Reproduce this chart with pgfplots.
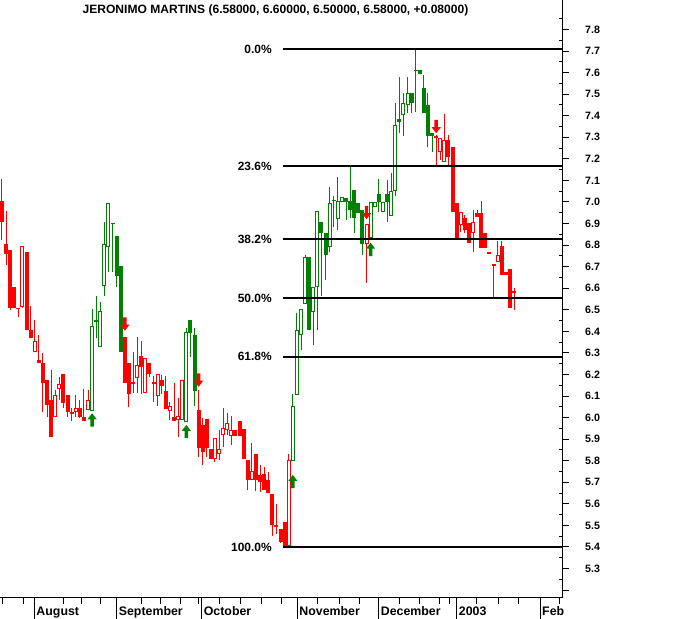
\documentclass[border=0pt]{standalone}
\usepackage{pgfplots}
\pgfplotsset{compat=1.18}
\usepackage{pgfplotstable}
\usepackage{fontspec}
\setmainfont{Liberation Sans}
\definecolor{cred}{RGB}{255,0,0}
\definecolor{cgreen}{RGB}{0,128,0}
\pgfdeclareplotmark{uparr}{%
 \pgfpathmoveto{\pgfqpoint{0bp}{0bp}}%
 \pgfpathlineto{\pgfqpoint{4.6bp}{-6bp}}%
 \pgfpathlineto{\pgfqpoint{1.7bp}{-6bp}}%
 \pgfpathlineto{\pgfqpoint{1.7bp}{-13.3bp}}%
 \pgfpathlineto{\pgfqpoint{-1.7bp}{-13.3bp}}%
 \pgfpathlineto{\pgfqpoint{-1.7bp}{-6bp}}%
 \pgfpathlineto{\pgfqpoint{-4.6bp}{-6bp}}%
 \pgfpathclose\pgfusepathqfill}
\pgfdeclareplotmark{downarr}{%
 \pgfpathmoveto{\pgfqpoint{0bp}{0bp}}%
 \pgfpathlineto{\pgfqpoint{4.6bp}{6bp}}%
 \pgfpathlineto{\pgfqpoint{1.7bp}{6bp}}%
 \pgfpathlineto{\pgfqpoint{1.7bp}{13.3bp}}%
 \pgfpathlineto{\pgfqpoint{-1.7bp}{13.3bp}}%
 \pgfpathlineto{\pgfqpoint{-1.7bp}{6bp}}%
 \pgfpathlineto{\pgfqpoint{-4.6bp}{6bp}}%
 \pgfpathclose\pgfusepathqfill}

% red, close below open (filled)
\pgfplotstableread{
k o h l c
1 7.005 7.107 6.824 6.909
2 6.805 6.960 6.708 6.757
3 6.777 6.777 6.499 6.507
4 6.607 6.607 6.507 6.507
5 6.510 6.510 6.468 6.504
7 6.768 6.768 6.406 6.406
8 6.406 6.518 6.368 6.368
10 6.267 6.383 6.255 6.255
11 6.255 6.298 6.027 6.159
12 6.174 6.174 6.004 6.057
13 6.082 6.221 5.911 5.911
16 6.202 6.202 6.043 6.066
17 6.105 6.105 6.004 6.027
18 6.025 6.043 5.986 6.015
20 6.046 6.082 5.998 6.004
21 6.004 6.131 5.986 5.986
31 6.375 6.375 6.159 6.159
32 6.253 6.253 6.049 6.109
33 6.166 6.303 6.113 6.154
35 6.286 6.355 6.109 6.236
37 6.255 6.255 6.188 6.204
38 6.165 6.193 6.074 6.156
40 6.174 6.198 6.109 6.148
41 6.123 6.193 6.038 6.038
43 6.003 6.159 5.986 5.986
49 6.035 6.128 5.819 5.858
50 5.966 5.997 5.780 5.842
51 5.992 5.992 5.819 5.858
52 5.853 5.853 5.807 5.807
58 5.942 5.942 5.915 5.915
59 5.984 5.984 5.915 5.915
60 5.946 5.946 5.807 5.807
61 5.803 5.803 5.664 5.711
63 5.831 5.831 5.659 5.711
64 5.734 5.780 5.656 5.703
65 5.738 5.772 5.664 5.664
66 5.711 5.749 5.649 5.649
67 5.646 5.646 5.452 5.502
68 5.502 5.599 5.460 5.491
69 5.482 5.482 5.417 5.424
70 5.514 5.514 5.400 5.406
107 7.308 7.310 7.172 7.299
110 7.287 7.311 7.164 7.210
111 7.256 7.256 6.955 6.955
112 6.994 6.994 6.832 6.832
114 6.924 6.940 6.856 6.870
115 6.901 6.901 6.808 6.808
117 6.950 6.963 6.929 6.929
118 6.950 7.005 6.788 6.788
119 6.855 6.855 6.788 6.788
120 6.769 6.769 6.759 6.759
121 6.710 6.710 6.549 6.703
123 6.796 6.819 6.661 6.661
124 6.677 6.677 6.661 6.661
125 6.688 6.688 6.507 6.507
126 6.585 6.600 6.500 6.580
}\redfilled
% red, close above open (hollow)
\pgfplotstableread{
k o h l c
6 6.512 6.796 6.508 6.796
9 6.303 6.453 6.303 6.355
14 6.001 6.128 6.001 6.105
15 6.131 6.190 6.082 6.154
19 6.025 6.105 6.004 6.043
22 6.035 6.128 6.035 6.082
34 6.182 6.375 6.113 6.244
36 6.113 6.275 6.113 6.275
39 6.102 6.202 6.055 6.202
42 6.032 6.072 5.989 6.054
44 5.989 6.091 5.911 6.007
45 5.989 6.174 5.989 6.174
53 5.807 5.905 5.795 5.905
54 5.831 5.942 5.803 5.853
55 5.919 6.043 5.865 5.950
56 5.942 6.020 5.919 5.973
57 5.915 6.007 5.873 5.942
62 5.711 5.881 5.711 5.754
71 5.406 5.831 5.406 5.803
90 6.805 6.898 6.626 6.898
108 7.233 7.298 7.195 7.298
109 7.187 7.408 7.187 7.287
113 6.893 6.955 6.862 6.955
116 6.855 6.963 6.769 6.906
122 6.723 6.819 6.723 6.754
}\redhollow
% green, close below open (filled)
\pgfplotstableread{
k o h l c
24 6.453 6.564 6.369 6.443
28 6.903 6.903 6.677 6.897
29 6.842 6.842 6.607 6.658
30 6.703 6.703 6.306 6.306
47 6.453 6.453 6.282 6.391
48 6.383 6.414 6.054 6.125
76 6.743 6.743 6.406 6.406
79 6.909 6.909 6.564 6.855
80 6.855 6.855 6.638 6.754
82 7.009 7.028 6.885 7.004
85 7.017 7.017 6.916 6.999
86 7.005 7.161 6.924 6.963
87 7.056 7.056 6.858 6.927
88 6.994 6.994 6.950 6.950
89 6.963 6.963 6.754 6.805
93 7.036 7.105 6.952 6.999
95 7.036 7.102 6.909 7.001
98 7.384 7.578 7.319 7.372
101 7.507 7.507 7.413 7.461
102 7.612 7.710 7.419 7.607
103 7.612 7.612 7.592 7.592
104 7.527 7.589 7.411 7.411
105 7.450 7.504 7.256 7.307
106 7.319 7.319 7.233 7.307
}\greenfilled
% green, close above open (hollow)
\pgfplotstableread{
k o h l c
23 6.032 6.502 6.032 6.425
25 6.327 6.538 6.327 6.494
26 6.612 6.909 6.564 6.804
27 6.793 6.994 6.677 6.994
46 5.981 6.416 5.981 6.396
72 5.800 6.108 5.800 6.054
73 6.105 6.484 6.105 6.406
74 6.383 6.502 6.313 6.502
75 6.527 6.754 6.527 6.743
77 6.491 6.604 6.337 6.604
78 6.604 6.958 6.406 6.958
81 6.793 7.071 6.769 6.994
83 6.921 7.117 6.870 7.005
84 7.001 7.025 7.001 7.025
91 6.832 7.001 6.832 7.001
92 6.975 7.001 6.975 7.001
94 6.955 7.001 6.955 7.001
96 6.936 7.134 6.936 7.052
97 7.052 7.458 7.028 7.357
99 7.403 7.504 7.306 7.458
100 7.450 7.578 7.411 7.507
}\greenhollow

\pgfplotsset{
 nomark/.style={only marks, mark=*, mark size=0pt,
   mark options={draw=none, fill=none}, forget plot},
 wick/.style={nomark,
   error bars/.cd, y dir=plus, y explicit, error mark=none,
   error bar style={line width=1bp, draw=#1}},
 body/.style={nomark,
   error bars/.cd, y dir=plus, y explicit, error mark=none,
   error bar style={line width=4bp, draw=#1}},
 inner/.style={nomark,
   error bars/.cd, y dir=plus, y explicit, error mark=none,
   error bar style={line width=2bp, draw=white, shorten <=1bp, shorten >=1bp}},
}

\begin{document}
\begin{tikzpicture}
\begin{axis}[
  scale only axis, width=562bp, height=597.7bp,
  at={(0bp,21.3bp)}, anchor=south west,
  xmin=0.512, xmax=137.72,
  ymin=5.1646, ymax=7.9368,
  axis x line*=bottom, axis y line*=right,
  axis line style={line width=1bp, black},
  tick align=outside,
  major tick length=6.5bp, minor tick length=3bp,
  tick style={line width=1bp, black},
  every minor tick/.append style={xshift=-3bp},
  xtick={1.17,6.20,15.97,20.29,24.93,35.11,39.58,44.46,48.92,54.22,59.11,64.41,69.29,77.98,83.35,88.23,97.99,102.87,107.93,110.37,116.88,122.16,127.04,137.05},
  xticklabels={},
  extra x ticks={8.886,29.0,49.75,73.09,92.97,112.01,132.35},
  extra x tick labels={August,September,October,November,December,2003,Feb},
  extra x tick style={major tick length=21.3bp,
    tick label style={anchor=base west, inner sep=0pt, xshift=2bp, yshift=3.7bp,
      font=\fontsize{12.4}{14}\selectfont\bfseries}},
  ytick={5.2,5.3,5.4,5.5,5.6,5.7,5.8,5.9,6.0,6.1,6.2,6.3,6.4,6.5,6.6,6.7,6.8,6.9,7.0,7.1,7.2,7.3,7.4,7.5,7.6,7.7,7.8},
  yticklabels={,5.3,5.4,5.5,5.6,5.7,5.8,5.9,6.0,6.1,6.2,6.3,6.4,6.5,6.6,6.7,6.8,6.9,7.0,7.1,7.2,7.3,7.4,7.5,7.6,7.7,7.8},
  minor ytick={5.25,5.35,...,7.85},
  yticklabel style={anchor=west, inner sep=0pt, xshift=16.5bp,
    font=\fontsize{10.7}{12}\selectfont\bfseries},
  title={JERONIMO MARTINS (6.58000, 6.60000, 6.50000, 6.58000, +0.08000)},
  title style={at={(axis description cs:0.4902,0.9677)}, anchor=base, inner sep=0pt,
    font=\fontsize{12.1}{14}\selectfont\bfseries},
]
% wicks
\addplot[wick=cred] table[x=k, y=l, y error plus expr=\thisrow{h}-\thisrow{l}] {\redfilled};
\addplot[wick=cred] table[x=k, y=l, y error plus expr=\thisrow{h}-\thisrow{l}] {\redhollow};
\addplot[wick=cgreen] table[x=k, y=l, y error plus expr=\thisrow{h}-\thisrow{l}] {\greenfilled};
\addplot[wick=cgreen] table[x=k, y=l, y error plus expr=\thisrow{h}-\thisrow{l}] {\greenhollow};
% filled bodies
\addplot[body=cred] table[x=k, y=c, y error plus expr=\thisrow{o}-\thisrow{c}] {\redfilled};
\addplot[body=cgreen] table[x=k, y=c, y error plus expr=\thisrow{o}-\thisrow{c}] {\greenfilled};
% hollow bodies
\addplot[body=cred] table[x=k, y=o, y error plus expr=\thisrow{c}-\thisrow{o}] {\redhollow};
\addplot[body=cgreen] table[x=k, y=o, y error plus expr=\thisrow{c}-\thisrow{o}] {\greenhollow};
\addplot[inner] table[x=k, y=o, y error plus expr=\thisrow{c}-\thisrow{o}] {\redhollow};
\addplot[inner] table[x=k, y=o, y error plus expr=\thisrow{c}-\thisrow{o}] {\greenhollow};
% Fibonacci retracement levels
\addplot[black, line width=2bp, forget plot] coordinates {(69.6,7.71) (137.72,7.71)};
\addplot[black, line width=2bp, forget plot] coordinates {(69.6,7.1648) (137.72,7.1648)};
\addplot[black, line width=2bp, forget plot] coordinates {(69.6,6.8276) (137.72,6.8276)};
\addplot[black, line width=2bp, forget plot] coordinates {(69.6,6.555) (137.72,6.555)};
\addplot[black, line width=2bp, forget plot] coordinates {(69.6,6.2824) (137.72,6.2824)};
\addplot[black, line width=2bp, forget plot] coordinates {(69.6,5.40) (137.72,5.40)};
% signals
\addplot[only marks, mark=uparr, cgreen, forget plot] coordinates {(23,6.020) (46,5.966) (72,5.734) (91,6.811)};
\addplot[only marks, mark=downarr, cred, forget plot] coordinates {(31,6.403) (49,6.143) (90,6.920) (107,7.319)};
\begin{scope}[every node/.style={anchor=east, inner sep=0pt, font=\fontsize{12}{14}\selectfont\bfseries}]
\node at (axis cs:66.9,7.71) {0.0\%};
\node at (axis cs:66.9,7.1648) {23.6\%};
\node at (axis cs:66.9,6.8276) {38.2\%};
\node at (axis cs:66.9,6.555) {50.0\%};
\node at (axis cs:66.9,6.2824) {61.8\%};
\node at (axis cs:66.9,5.40) {100.0\%};
\end{scope}
\end{axis}
\pgfresetboundingbox
\path[use as bounding box] (0,0) rectangle (681bp,619bp);
\end{tikzpicture}
\end{document}
